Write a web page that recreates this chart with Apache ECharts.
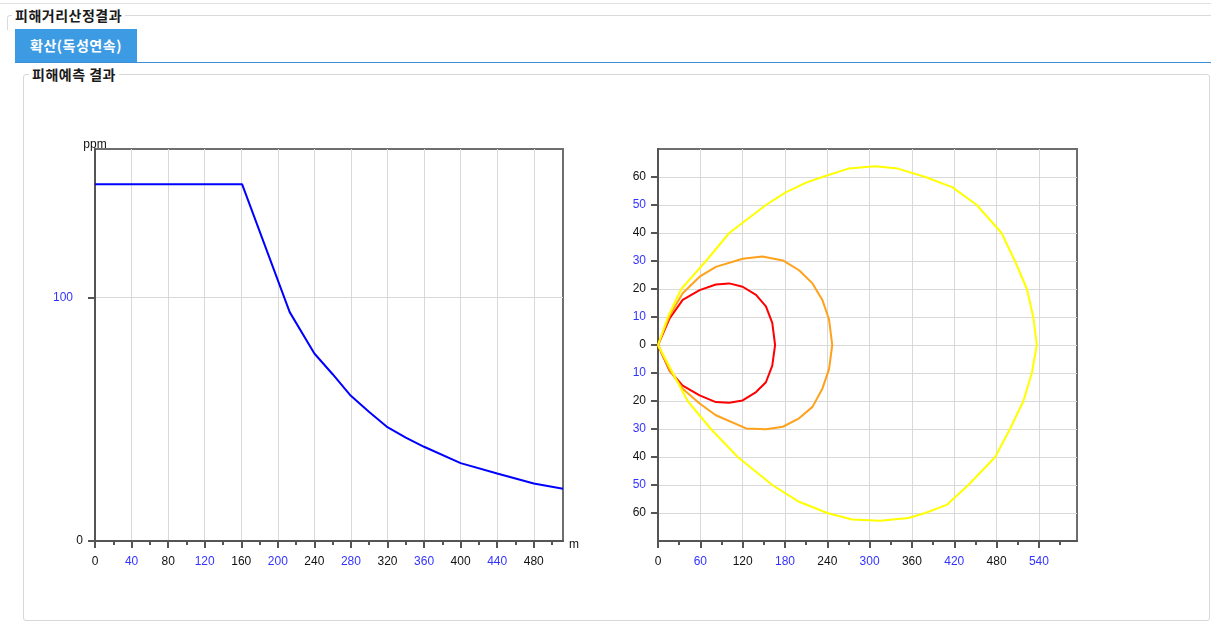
<!DOCTYPE html>
<html>
<head>
<meta charset="utf-8">
<script src="https://cdn.jsdelivr.net/npm/echarts@6/dist/echarts.min.js"></script>
<style>
  html, body { margin:0; padding:0; background:#fff; width:1211px; height:622px; overflow:hidden; }
  .abs { position:absolute; }
  .kr { font-family:"Noto Sans CJK KR", "Noto Sans", sans-serif; font-weight:bold; font-size:14px; letter-spacing:0.5px; line-height:16px; color:#1a1a1a; white-space:nowrap; }
  #chart { position:absolute; left:0; top:0; width:1211px; height:622px; z-index:2; }
</style>
</head>
<body>
<!-- window chrome -->
<div class="abs" style="left:0;top:3px;width:1211px;height:1px;background:#e2e2e2;"></div>
<div class="abs" style="left:7px;top:15px;width:1204px;height:14px;border-top:1px solid #dadada;border-left:1px solid #dadada;border-top-left-radius:3px;"></div>
<div class="abs kr" style="left:12px;top:7px;background:#fff;padding:0 3px;">피해거리산정결과</div>
<div class="abs kr" style="left:15px;top:29px;width:122px;height:33px;background:#3d9be3;color:#fff;text-align:center;line-height:33px;">확산(독성연속)</div>
<div class="abs" style="left:15px;top:62px;width:1196px;height:1px;background:#3b8fd9;"></div>
<div class="abs" style="left:23px;top:74px;width:1185px;height:545px;border:1px solid #d8d8d8;border-radius:3px;"></div>
<div class="abs kr" style="left:29px;top:66px;background:#fff;padding:0 3px;">피해예측 결과</div>

<div id="chart"></div>
<script>
// ---- left chart data: concentration (ppm) vs distance (m)
const distX = [0, 161, 213, 240, 260, 279, 300, 319, 340, 360, 400, 440, 480, 512];
const ppmY  = [146.5, 146.5, 94, 77, 68.5, 60, 53, 47, 42.5, 38.7, 32, 27.7, 23.6, 21.5];
const leftXTicks = [0, 40, 80, 120, 160, 200, 240, 280, 320, 360, 400, 440, 480];
const leftYTicks = [0, 100];

// ---- right chart data: damage footprints (x = downwind m, y = crosswind m)
const redUpperX = [0, 16.5, 35, 59, 82, 101, 120, 139, 153, 162, 166];
const redUpperY = [0, 9.5, 16.1, 19.6, 21.6, 22, 20.8, 17.9, 13.8, 7.9, 0];
const redLowerX = [0, 16.5, 35, 59, 82, 101, 120, 139, 153, 162, 166];
const redLowerY = [0, -9.2, -14.5, -18, -20.4, -20.6, -19.8, -16.8, -13.3, -7.4, 0];

const orangeUpperX = [0, 16.5, 35, 59, 82, 120, 148, 177, 200, 219, 233, 242.5, 247];
const orangeUpperY = [0, 10.5, 18.5, 24.4, 27.9, 30.8, 31.6, 30.2, 26.7, 22, 16.1, 9.1, 0];
const orangeLowerX = [0, 16.5, 35, 59, 82, 125, 153, 177, 200, 219, 233, 242.5, 247];
const orangeLowerY = [0, -9, -15.6, -20.9, -25.1, -29.8, -30.1, -29.2, -26.2, -22.1, -15.6, -8.6, 0];

const yellowUpperX = [0, 14, 33, 68, 101, 153, 181, 210, 233, 270, 308, 340, 379, 417, 452, 487, 506, 523, 532, 537];
const yellowUpperY = [0, 10, 20, 30, 40, 50, 54.5, 58, 60, 63, 63.8, 63, 60, 56.4, 50, 40, 30, 20, 10, 0];
const yellowLowerX = [0, 21, 42, 75, 113, 162, 200, 240, 275, 315, 355, 379, 410, 440, 478, 499, 518, 530, 537];
const yellowLowerY = [0, -10, -20, -30, -40, -50, -56, -60, -62.3, -62.8, -61.8, -60, -57, -50, -40, -30, -20, -10, 0];

const rightXTicks = [0, 60, 120, 180, 240, 300, 360, 420, 480, 540];
const rightYTicks = [-60, -50, -40, -30, -20, -10, 0, 10, 20, 30, 40, 50, 60];

function pairs(xs, ys) { return xs.map((x, i) => [x, ys[i]]); }
function loop(ux, uy, lx, ly) {
  return pairs(ux, uy).concat(pairs(lx, ly).reverse());
}

const FONT = 'Liberation Sans, Arial, sans-serif';
const BLUE = '#3333ff';
function alt(step) {
  return function (v) {
    const k = Math.round(Math.abs(v) / step);
    return (k % 2 ? '{b|' : '{k|') + Math.abs(v) + '}';
  };
}
const rich = {
  k: { color: '#111', fontSize: 12, fontFamily: FONT },
  b: { color: BLUE, fontSize: 12, fontFamily: FONT }
};
const richLeftY = {
  k: { color: '#111', fontSize: 12, fontFamily: FONT },
  b: { color: BLUE, fontSize: 12, fontFamily: FONT, padding: [0, 10, 0, 0] }
};
const axisLineStyle = { show: true, onZero: false, lineStyle: { color: '#555', width: 2 } };
const tickStyle = { color: '#555', width: 2 };
const splitStyle = { show: true, lineStyle: { color: '#d9d9d9', width: 1 } };

const chart = echarts.init(document.getElementById('chart'), null, { renderer: 'canvas' });
chart.setOption({
  animation: false,
  backgroundColor: 'transparent',
  grid: [
    { left: 95, top: 149, width: 468, height: 392, show: true, borderColor: '#6e6e6e', borderWidth: 2, backgroundColor: 'transparent' },
    { left: 658, top: 149, width: 419, height: 392, show: true, borderColor: '#6e6e6e', borderWidth: 2, backgroundColor: 'transparent' }
  ],
  xAxis: [
    {
      type: 'value', gridIndex: 0, min: 0, max: 512, interval: 40,
      name: 'm', nameLocation: 'end', nameGap: 6,
      nameTextStyle: { color: '#111', fontSize: 12, fontFamily: FONT, verticalAlign: 'top', align: 'left', lineHeight: 8 },
      axisLine: axisLineStyle,
      axisTick: { show: true, length: 7, lineStyle: tickStyle, customValues: leftXTicks },
      minorTick: { show: true, splitNumber: 2, length: 4, lineStyle: tickStyle },
      axisLabel: { margin: 15, customValues: leftXTicks, formatter: alt(40), rich: rich },
      splitLine: splitStyle
    },
    {
      type: 'value', gridIndex: 1, min: 0, max: 594, interval: 60,
      axisLine: axisLineStyle,
      axisTick: { show: true, length: 7, lineStyle: tickStyle, customValues: rightXTicks },
      minorTick: { show: true, splitNumber: 2, length: 4, lineStyle: tickStyle },
      axisLabel: { margin: 15, customValues: rightXTicks, formatter: alt(60), rich: rich },
      splitLine: splitStyle
    }
  ],
  yAxis: [
    {
      type: 'value', gridIndex: 0, min: 0, max: 161, interval: 100,
      name: 'ppm', nameLocation: 'end', nameGap: 4,
      nameTextStyle: { color: '#111', fontSize: 12, fontFamily: FONT, align: 'center', verticalAlign: 'middle' },
      axisLine: axisLineStyle,
      axisTick: { show: true, length: 7, lineStyle: tickStyle, customValues: leftYTicks },
      axisLabel: { margin: 12, customValues: leftYTicks, formatter: alt(100), rich: richLeftY },
      splitLine: splitStyle
    },
    {
      type: 'value', gridIndex: 1, min: -70, max: 70, interval: 10,
      axisLine: axisLineStyle,
      axisTick: { show: true, length: 7, lineStyle: tickStyle, customValues: rightYTicks },
      axisLabel: { margin: 12, customValues: rightYTicks, formatter: alt(10), rich: rich },
      splitLine: splitStyle
    }
  ],
  series: [
    {
      type: 'line', xAxisIndex: 0, yAxisIndex: 0, data: pairs(distX, ppmY),
      showSymbol: false, lineStyle: { color: '#0000ff', width: 2 }, z: 5
    },
    {
      type: 'line', xAxisIndex: 1, yAxisIndex: 1, data: loop(redUpperX, redUpperY, redLowerX, redLowerY),
      showSymbol: false, lineStyle: { color: '#ff0000', width: 2 }, z: 5
    },
    {
      type: 'line', xAxisIndex: 1, yAxisIndex: 1, data: loop(orangeUpperX, orangeUpperY, orangeLowerX, orangeLowerY),
      showSymbol: false, lineStyle: { color: '#ffa11a', width: 2 }, z: 5
    },
    {
      type: 'line', xAxisIndex: 1, yAxisIndex: 1, data: loop(yellowUpperX, yellowUpperY, yellowLowerX, yellowLowerY),
      showSymbol: false, lineStyle: { color: '#ffff00', width: 2 }, z: 5
    }
  ]
});
</script>
</body>
</html>
